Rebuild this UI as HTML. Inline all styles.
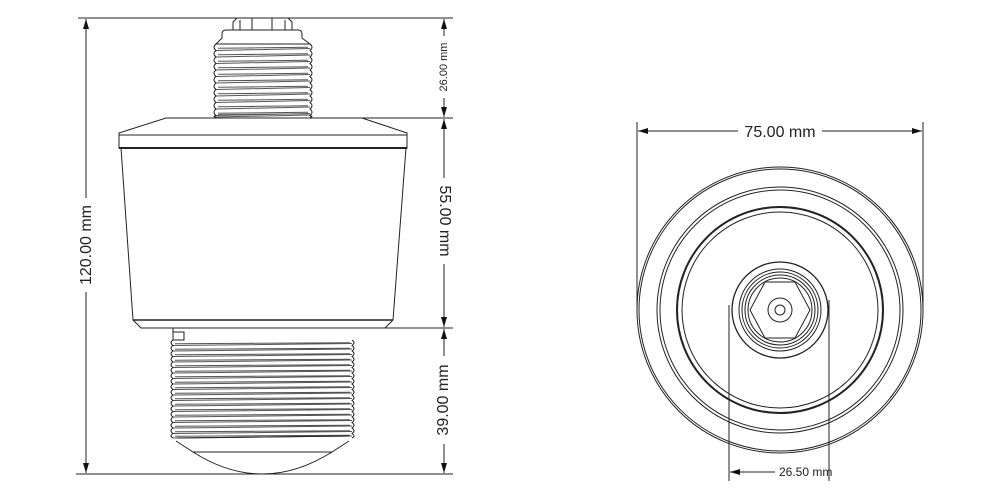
<!DOCTYPE html>
<html><head><meta charset="utf-8"><style>
html,body{margin:0;padding:0;background:#fff;}
svg{display:block;}
text{font-family:"Liberation Sans",Arial,sans-serif;fill:#222;}
</style></head><body>
<svg id="s" width="1000" height="500" viewBox="0 0 1000 500" xmlns="http://www.w3.org/2000/svg">
<defs>
<marker id="a" viewBox="0 0 10 6" refX="10" refY="3" markerWidth="10" markerHeight="6" orient="auto-start-reverse" markerUnits="userSpaceOnUse"><path d="M0,0L10,3L0,6z" fill="#111"/></marker>
</defs>
<g stroke="#222" fill="none" stroke-width="1">
<line x1="78" y1="18" x2="453" y2="18"/>
<line x1="76" y1="474" x2="453" y2="474"/>
<line x1="362" y1="118" x2="453" y2="118"/>
<line x1="385" y1="328" x2="453" y2="328"/>
<line x1="86" y1="19" x2="86" y2="198" marker-start="url(#a)"/>
<line x1="86" y1="292" x2="86" y2="473" marker-end="url(#a)"/>
<line x1="444" y1="19" x2="444" y2="36" marker-start="url(#a)"/>
<line x1="444" y1="98" x2="444" y2="117" marker-end="url(#a)"/>
<line x1="444" y1="119" x2="444" y2="178" marker-start="url(#a)"/>
<line x1="444" y1="264" x2="444" y2="327" marker-end="url(#a)"/>
<line x1="444" y1="329" x2="444" y2="356" marker-start="url(#a)"/>
<line x1="444" y1="444" x2="444" y2="473" marker-end="url(#a)"/>

<path d="M233,30 L233,22 L237,18 L288,18 L292,22 L292,30 M252,18 L252,30 M272,18 L272,30 M240,20 L240,30 M285,20 L285,30"/>
<path d="M216,44 L222,38 L222,34 Q222,30 226,30 L298,30 Q302,30 302,34 L302,38 L310,44 Z"/>
<g id="t1"></g>
<path d="M166,118 L362,118 L407,133 L407,148 L119,148 L119,133 Z"/>
<line x1="119" y1="135" x2="407" y2="135"/>
<line x1="119" y1="148" x2="407" y2="148" stroke-width="2"/>
<path d="M121,148 L133,320 L141,328 L385,328 L393,320 L406,148"/>
<line x1="133" y1="320" x2="393" y2="320" stroke-width="1.6"/>
<g id="t2"></g>
<path d="M173,328 L173,340 L184,340 L184,332 L173,332"/>
<path d="M177,438 L349,436 M176,441 L193,452 L332,452 L349,441"/>
<path d="M193,452 Q262,496 332,452"/>

<line x1="637" y1="122" x2="637" y2="310"/>
<line x1="923" y1="122" x2="923" y2="310"/>
<line x1="638" y1="131" x2="738" y2="131" marker-start="url(#a)"/>
<line x1="822" y1="131" x2="922" y2="131" marker-end="url(#a)"/>
<circle cx="780" cy="310" r="143"/>
<circle cx="780" cy="310" r="141"/>
<circle cx="780" cy="310" r="123"/>
<circle cx="780" cy="310" r="120"/>
<circle cx="780" cy="310" r="103" stroke-width="2"/>
<circle cx="780" cy="310" r="98"/>
<circle cx="780" cy="310" r="48" stroke-width="1.3"/>
<circle cx="780" cy="310" r="41"/>
<circle cx="780" cy="310" r="38"/>
<circle cx="780" cy="310" r="35"/>
<circle cx="780" cy="310" r="32"/>
<path d="M765,282 L795,282 L810,310 L795,338 L765,338 L750,310 Z"/>
<circle cx="780" cy="310" r="12"/>
<circle cx="780" cy="310" r="5"/>
<line x1="729" y1="305" x2="729" y2="481"/>
<line x1="829" y1="300" x2="829" y2="481"/>
<line x1="730" y1="472" x2="775" y2="472" marker-start="url(#a)"/>
</g>
<text x="87" y="245" font-size="16" text-anchor="middle" transform="rotate(-90 87 245)" dominant-baseline="middle">120.00 mm</text>
<text x="444" y="67" font-size="11" text-anchor="middle" transform="rotate(-90 444 67)" dominant-baseline="middle">26.00 mm</text>
<text x="444" y="221" font-size="16" text-anchor="middle" transform="rotate(90 444 221)" dominant-baseline="middle">55.00 mm</text>
<text x="444" y="400" font-size="16" text-anchor="middle" transform="rotate(-90 444 400)" dominant-baseline="middle">39.00 mm</text>
<text x="780" y="137" font-size="16" text-anchor="middle">75.00 mm</text>
<text x="779" y="476" font-size="12">26.50 mm</text>
</svg>
<script>
function thread(id,x1,x2,y1,y2,p){
 var g=document.getElementById(id),d="",dl="M"+x1+","+y1,dr="M"+x2+","+y1;
 for(var y=y1;y<y2-0.1;y+=p){
  var m=Math.min(y+p/2,y2),e=Math.min(y+p,y2);
  dl+=" Q"+(x1-4)+","+m+" "+x1+","+e;
  dr+=" Q"+(x2+4)+","+m+" "+x2+","+e;
  d+="M"+x1+","+e+"L"+x2+","+(e-2)+" M"+(x1+2)+","+(e-p/2+1)+"L"+(x2-2)+","+(e-p/2)+" ";
 }
 var ns="http://www.w3.org/2000/svg";
 [d,dl,dr].forEach(function(s,i){var pth=document.createElementNS(ns,"path");pth.setAttribute("d",s);if(i==0)pth.setAttribute("stroke","#555");g.appendChild(pth);});
}
thread("t1",216,310,44,117,6.5);
thread("t2",173,352,340,438,5.5);
</script>
</body></html>
